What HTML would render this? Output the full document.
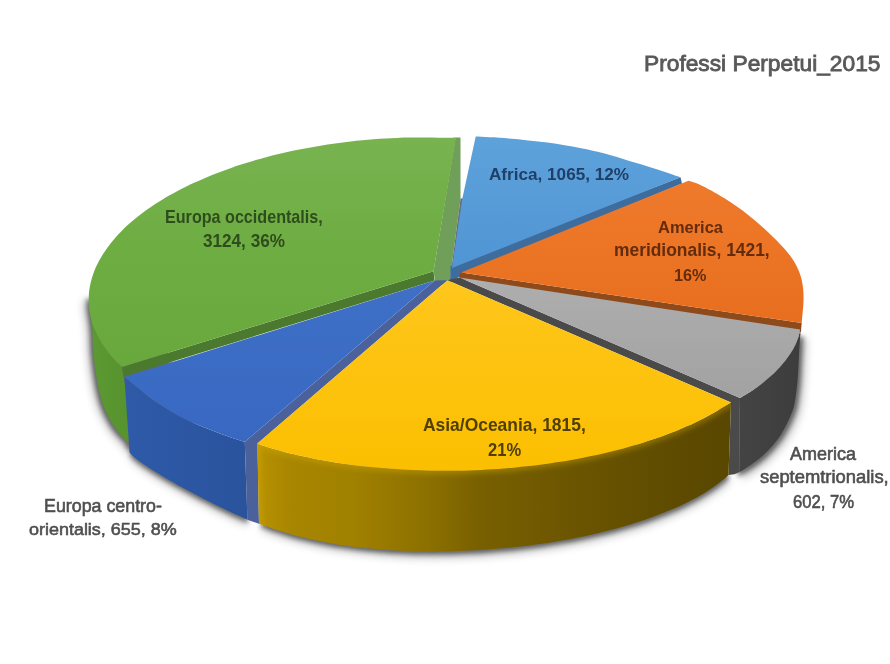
<!DOCTYPE html>
<html><head><meta charset="utf-8"><style>
html,body{margin:0;padding:0;background:#fff;}
body{width:890px;height:664px;position:relative;overflow:hidden;font-family:"Liberation Sans",sans-serif;}
svg{position:absolute;left:0;top:0;}
.t{position:absolute;white-space:nowrap;line-height:1;transform-origin:0 0;}
</style></head><body>
<svg width="890" height="664" viewBox="0 0 890 664">
<defs>
<filter id="sh" x="-20%" y="-20%" width="140%" height="140%"><feGaussianBlur stdDeviation="4"/></filter>
<filter id="bev" x="-20%" y="-20%" width="140%" height="140%"><feGaussianBlur stdDeviation="2.5"/></filter>
<filter id="sh2" x="-20%" y="-20%" width="140%" height="140%"><feGaussianBlur stdDeviation="2"/></filter>
<linearGradient id="gTop" x1="0" y1="137" x2="0" y2="367" gradientUnits="userSpaceOnUse">
 <stop offset="0" stop-color="#78b350"/><stop offset="0.5" stop-color="#6ead42"/><stop offset="1" stop-color="#69a83d"/></linearGradient>
<linearGradient id="gWall" x1="0" y1="0" x2="1" y2="0">
 <stop offset="0" stop-color="#5c9a32"/><stop offset="1" stop-color="#56912d"/></linearGradient>
<linearGradient id="aTop" x1="0" y1="136" x2="0" y2="268" gradientUnits="userSpaceOnUse">
 <stop offset="0" stop-color="#5ea2db"/><stop offset="1" stop-color="#5095d4"/></linearGradient>
<linearGradient id="oTop" x1="0" y1="180" x2="0" y2="325" gradientUnits="userSpaceOnUse">
 <stop offset="0" stop-color="#ef7a2b"/><stop offset="1" stop-color="#e86e1f"/></linearGradient>
<linearGradient id="sTop" x1="0" y1="277" x2="0" y2="397" gradientUnits="userSpaceOnUse">
 <stop offset="0" stop-color="#aeaeae"/><stop offset="1" stop-color="#a2a2a2"/></linearGradient>
<linearGradient id="sWall" x1="735" y1="0" x2="801" y2="0" gradientUnits="userSpaceOnUse">
 <stop offset="0" stop-color="#444444"/><stop offset="1" stop-color="#3d3d3d"/></linearGradient>
<linearGradient id="yTop" x1="0" y1="280" x2="0" y2="472" gradientUnits="userSpaceOnUse">
 <stop offset="0" stop-color="#ffc61c"/><stop offset="1" stop-color="#fbbf00"/></linearGradient>
<linearGradient id="yWall" x1="257" y1="0" x2="730" y2="0" gradientUnits="userSpaceOnUse">
 <stop offset="0" stop-color="#b89200"/><stop offset="0.07" stop-color="#a88600"/><stop offset="0.21" stop-color="#a08000"/><stop offset="0.36" stop-color="#8c7000"/><stop offset="0.47" stop-color="#786000"/><stop offset="0.69" stop-color="#6a5400"/><stop offset="0.89" stop-color="#5e4b00"/><stop offset="1" stop-color="#5a4700"/></linearGradient>
<linearGradient id="bTop" x1="0" y1="280" x2="0" y2="442" gradientUnits="userSpaceOnUse">
 <stop offset="0" stop-color="#3f70c6"/><stop offset="1" stop-color="#3868c2"/></linearGradient>
<linearGradient id="bWall" x1="125" y1="0" x2="247" y2="0" gradientUnits="userSpaceOnUse">
 <stop offset="0" stop-color="#2e5aa8"/><stop offset="1" stop-color="#2a539d"/></linearGradient>
</defs>
<g filter="url(#sh)" fill="#000" opacity="0.25">
<path d="M260.6,530.1 C262.0,530.6 266.1,532.0 268.7,532.9 C271.4,533.9 273.9,534.9 276.7,535.8 C279.4,536.7 282.1,537.6 285.0,538.5 C287.8,539.4 290.8,540.3 293.7,541.1 C296.7,541.9 299.7,542.7 302.8,543.5 C305.9,544.2 309.1,545.0 312.3,545.7 C315.5,546.4 318.8,547.1 322.1,547.7 C325.4,548.4 328.8,549.0 332.2,549.6 C335.6,550.2 339.1,550.8 342.6,551.3 C346.1,551.8 349.7,552.3 353.3,552.8 C356.9,553.3 360.6,553.7 364.2,554.1 C367.9,554.5 371.7,554.9 375.4,555.2 C379.2,555.6 383.0,555.9 386.8,556.1 C390.6,556.4 394.5,556.7 398.4,556.9 C402.3,557.1 406.2,557.3 410.1,557.4 C414.0,557.5 418.0,557.6 422.0,557.7 C426.0,557.8 430.0,557.8 434.0,557.9 C438.0,557.9 442.0,557.8 446.1,557.8 C450.1,557.7 454.1,557.6 458.2,557.5 C462.3,557.4 466.3,557.2 470.4,557.0 C474.5,556.9 478.5,556.6 482.6,556.4 C486.7,556.1 490.7,555.8 494.8,555.5 C498.9,555.2 502.9,554.8 507.0,554.5 C511.0,554.1 515.0,553.6 519.1,553.2 C523.1,552.7 527.1,552.3 531.1,551.8 C535.1,551.2 539.1,550.7 543.0,550.1 C547.0,549.6 550.9,548.9 554.8,548.3 C558.7,547.7 562.6,547.0 566.5,546.3 C570.3,545.6 574.1,544.9 577.9,544.1 C581.7,543.4 585.5,542.6 589.2,541.8 C592.9,541.0 596.6,540.2 600.2,539.3 C603.9,538.4 607.5,537.5 611.0,536.6 C614.6,535.7 618.1,534.8 621.5,533.8 C625.0,532.8 628.4,531.8 631.8,530.8 C635.1,529.8 638.4,528.7 641.7,527.7 C645.0,526.6 648.2,525.5 651.3,524.4 C654.4,523.3 657.5,522.2 660.5,521.0 C663.6,519.9 666.5,518.7 669.4,517.5 C672.3,516.3 675.2,515.1 677.9,513.9 C680.7,512.6 683.4,511.4 686.0,510.1 C688.6,508.8 691.2,507.5 693.7,506.2 C696.2,504.9 698.6,503.6 700.9,502.3 C703.3,501.0 705.5,499.6 707.7,498.3 C709.9,496.9 712.0,495.5 714.0,494.1 C716.1,492.8 718.0,491.4 719.9,490.0 C721.8,488.5 723.6,487.1 725.3,485.7 C727.0,484.3 729.3,482.1 730.1,481.4 L700.0,440.0 L300.0,470.0 Z"/>
<path d="M130.2,456.8 C130.2,457.0 130.1,457.5 130.2,457.9 C130.3,458.4 130.5,458.9 130.9,459.4 C131.3,460.0 131.9,460.7 132.7,461.4 C133.4,462.2 134.4,463.0 135.4,463.9 C136.5,464.8 137.8,465.8 139.2,466.9 C140.6,467.9 142.1,469.0 143.8,470.2 C145.5,471.4 147.4,472.6 149.4,473.9 C151.3,475.2 153.5,476.5 155.7,477.9 C157.9,479.3 160.3,480.7 162.7,482.2 C165.1,483.6 167.7,485.1 170.3,486.7 C172.9,488.2 175.7,489.7 178.4,491.3 C181.2,492.8 184.1,494.4 187.0,496.0 C189.8,497.5 192.8,499.1 195.8,500.7 C198.7,502.2 201.7,503.8 204.7,505.3 C207.7,506.9 210.7,508.4 213.7,509.9 C216.7,511.4 219.7,512.8 222.6,514.2 C225.6,515.7 228.5,517.1 231.4,518.4 C234.2,519.7 237.0,521.0 239.8,522.2 C242.6,523.5 246.8,525.5 248.2,526.1 L240.0,460.0 L140.0,430.0 Z"/>
<path d="M83.4,299.3 C83.5,301.3 83.6,307.4 84.0,311.4 C84.4,315.4 85.3,319.6 85.8,323.4 C86.3,327.2 86.6,329.6 86.9,334.2 C87.2,338.8 87.1,345.3 87.5,351.2 C87.9,357.1 88.5,363.3 89.3,369.3 C90.1,375.3 90.9,381.4 92.1,387.4 C93.3,393.4 94.8,400.1 96.6,405.5 C98.4,410.9 100.4,415.2 102.9,420.0 C105.5,424.8 108.7,430.2 111.9,434.4 C115.1,438.6 119.3,442.1 121.9,445.2 C124.5,448.3 126.6,451.5 127.5,452.8 L200.0,420.0 L160.0,340.0 Z"/>
<path d="M806.9,338.8 C806.7,340.7 806.3,344.2 805.9,350.4 C805.5,356.6 805.1,368.3 804.6,376.0 C804.1,383.7 803.7,389.8 802.7,396.5 C801.7,403.2 801.4,409.1 798.7,416.4 C796.0,423.7 791.4,433.3 786.6,440.5 C781.8,447.7 775.8,454.2 769.8,459.8 C763.8,465.4 755.3,471.0 750.5,474.2 C745.7,477.4 742.5,478.2 740.9,479.0 L740.0,420.0 L780.0,340.0 Z"/>
</g>
<g filter="url(#sh2)" fill="#1a1a1a" opacity="0.55">
<path d="M259.8,526.9 C261.2,527.4 265.3,528.8 267.9,529.7 C270.6,530.7 273.1,531.7 275.9,532.6 C278.6,533.5 281.3,534.4 284.2,535.3 C287.0,536.2 290.0,537.1 292.9,537.9 C295.9,538.7 298.9,539.5 302.0,540.3 C305.1,541.0 308.3,541.8 311.5,542.5 C314.7,543.2 318.0,543.9 321.3,544.5 C324.6,545.2 328.0,545.8 331.4,546.4 C334.8,547.0 338.3,547.6 341.8,548.1 C345.3,548.6 348.9,549.1 352.5,549.6 C356.1,550.1 359.8,550.5 363.4,550.9 C367.1,551.3 370.9,551.7 374.6,552.0 C378.4,552.4 382.2,552.7 386.0,552.9 C389.8,553.2 393.7,553.5 397.6,553.7 C401.5,553.9 405.4,554.1 409.3,554.2 C413.2,554.3 417.2,554.4 421.2,554.5 C425.2,554.6 429.2,554.6 433.2,554.7 C437.2,554.7 441.2,554.6 445.3,554.6 C449.3,554.5 453.3,554.4 457.4,554.3 C461.5,554.2 465.5,554.0 469.6,553.8 C473.7,553.7 477.7,553.4 481.8,553.2 C485.9,552.9 489.9,552.6 494.0,552.3 C498.1,552.0 502.1,551.6 506.2,551.3 C510.2,550.9 514.2,550.4 518.3,550.0 C522.3,549.5 526.3,549.1 530.3,548.6 C534.3,548.0 538.3,547.5 542.2,546.9 C546.2,546.4 550.1,545.7 554.0,545.1 C557.9,544.5 561.8,543.8 565.7,543.1 C569.5,542.4 573.3,541.7 577.1,540.9 C580.9,540.2 584.7,539.4 588.4,538.6 C592.1,537.8 595.8,537.0 599.4,536.1 C603.1,535.2 606.7,534.3 610.2,533.4 C613.8,532.5 617.3,531.6 620.7,530.6 C624.2,529.6 627.6,528.6 631.0,527.6 C634.3,526.6 637.6,525.5 640.9,524.5 C644.2,523.4 647.4,522.3 650.5,521.2 C653.6,520.1 656.7,519.0 659.7,517.8 C662.8,516.7 665.7,515.5 668.6,514.3 C671.5,513.1 674.4,511.9 677.1,510.7 C679.9,509.4 682.6,508.2 685.2,506.9 C687.8,505.6 690.4,504.3 692.9,503.0 C695.4,501.7 697.8,500.4 700.1,499.1 C702.5,497.8 704.7,496.4 706.9,495.1 C709.1,493.7 711.2,492.3 713.2,490.9 C715.3,489.6 717.2,488.2 719.1,486.8 C721.0,485.3 722.8,483.9 724.5,482.5 C726.2,481.1 728.5,478.9 729.3,478.2 L700.0,440.0 L300.0,470.0 Z"/>
<path d="M129.8,453.6 C129.8,453.8 129.7,454.3 129.8,454.7 C129.9,455.2 130.1,455.7 130.5,456.2 C130.9,456.8 131.5,457.5 132.3,458.2 C133.0,459.0 134.0,459.8 135.0,460.7 C136.1,461.6 137.4,462.6 138.8,463.7 C140.2,464.7 141.7,465.8 143.4,467.0 C145.1,468.2 147.0,469.4 149.0,470.7 C150.9,472.0 153.1,473.3 155.3,474.7 C157.5,476.1 159.9,477.5 162.3,479.0 C164.7,480.4 167.3,481.9 169.9,483.5 C172.5,485.0 175.3,486.5 178.0,488.1 C180.8,489.6 183.7,491.2 186.6,492.8 C189.4,494.3 192.4,495.9 195.4,497.5 C198.3,499.0 201.3,500.6 204.3,502.1 C207.3,503.7 210.3,505.2 213.3,506.7 C216.3,508.2 219.3,509.6 222.2,511.0 C225.2,512.5 228.1,513.9 231.0,515.2 C233.8,516.5 236.6,517.8 239.4,519.0 C242.2,520.3 246.4,522.3 247.8,522.9 L240.0,460.0 L140.0,430.0 Z"/>
<path d="M86.2,297.7 C86.3,299.7 86.4,305.8 86.8,309.8 C87.2,313.8 88.1,318.0 88.6,321.8 C89.1,325.6 89.4,328.0 89.7,332.6 C90.0,337.2 89.9,343.8 90.3,349.6 C90.7,355.5 91.3,361.7 92.1,367.7 C92.9,373.7 93.7,379.8 94.9,385.8 C96.1,391.8 97.6,398.5 99.4,403.9 C101.2,409.3 103.2,413.6 105.7,418.4 C108.2,423.2 111.5,428.6 114.7,432.8 C117.9,437.0 122.6,440.7 124.7,443.6 C126.8,446.5 127.0,449.3 127.5,450.4 L200.0,420.0 L160.0,340.0 Z"/>
<path d="M803.7,336.4 C803.5,338.3 803.1,341.8 802.7,348.0 C802.3,354.2 801.9,365.9 801.4,373.6 C800.9,381.3 800.5,387.4 799.5,394.1 C798.5,400.8 798.2,406.7 795.5,414.0 C792.8,421.3 788.2,430.9 783.4,438.1 C778.6,445.3 772.6,451.8 766.6,457.4 C760.6,463.0 752.1,468.6 747.3,471.8 C742.5,475.0 739.3,475.8 737.7,476.6 L740.0,420.0 L780.0,340.0 Z"/>
</g>
<path fill="url(#gWall)" d="M89.0,296.1 C89.1,298.1 89.2,304.2 89.6,308.2 C90.0,312.2 90.9,316.4 91.4,320.2 C91.9,324.0 92.2,326.4 92.5,331.0 C92.8,335.6 92.7,342.1 93.1,348.0 C93.5,353.9 94.1,360.1 94.9,366.1 C95.7,372.1 96.5,378.2 97.7,384.2 C98.9,390.2 100.4,396.9 102.2,402.3 C104.0,407.7 106.0,412.0 108.5,416.8 C111.0,421.6 114.3,427.0 117.5,431.2 C120.7,435.4 125.8,440.2 127.5,442.0 L127.5,442.0 L135.0,442.0 L122.0,367.0 L122.0,367.0 C121.1,366.2 118.2,363.8 116.5,362.1 C114.8,360.5 113.4,358.7 111.9,357.0 C110.4,355.3 109.0,353.6 107.7,351.8 C106.4,350.1 105.1,348.3 103.9,346.6 C102.7,344.8 101.5,343.0 100.5,341.2 C99.4,339.4 98.4,337.6 97.5,335.8 C96.6,334.0 95.4,331.2 95.0,330.3 Z"/>
<path fill="#6f9f58" d="M455.5,137.6 L460.5,137.6 L460.5,198.5 L449.4,284.0 L436.0,286.0 L433.5,271.2 Z"/>
<path fill="#4b7a2e" d="M122.0,367.0 L433.5,271.2 L434.6,280.5 L123.9,376.5 Z"/>
<path fill="url(#gTop)" d="M456.0,137.4 C454.0,137.5 448.0,137.7 444.1,137.7 C440.2,137.7 436.3,137.5 432.4,137.4 C428.5,137.4 424.6,137.4 420.7,137.4 C416.8,137.4 412.9,137.5 409.0,137.6 C405.1,137.6 401.2,137.8 397.2,137.9 C393.3,138.1 389.4,138.3 385.5,138.5 C381.6,138.7 377.7,139.0 373.8,139.3 C369.9,139.6 366.0,139.9 362.1,140.3 C358.3,140.7 354.4,141.1 350.5,141.5 C346.7,141.9 342.8,142.4 339.0,142.9 C335.2,143.4 331.3,144.0 327.5,144.5 C323.8,145.1 320.0,145.7 316.2,146.4 C312.5,147.0 308.7,147.7 305.0,148.4 C301.3,149.1 297.6,149.8 293.9,150.6 C290.3,151.4 286.6,152.2 283.0,153.0 C279.4,153.9 275.8,154.7 272.2,155.6 C268.7,156.5 265.2,157.5 261.7,158.4 C258.2,159.4 254.7,160.4 251.3,161.4 C247.9,162.4 244.5,163.5 241.1,164.6 C237.8,165.6 234.5,166.7 231.2,167.9 C227.9,169.0 224.7,170.2 221.5,171.4 C218.3,172.6 215.2,173.8 212.1,175.0 C209.0,176.3 205.9,177.6 202.9,178.9 C199.9,180.2 196.9,181.5 194.0,182.8 C191.1,184.2 188.2,185.6 185.4,187.0 C182.6,188.4 179.8,189.8 177.1,191.2 C174.4,192.7 171.7,194.2 169.1,195.6 C166.5,197.1 163.9,198.6 161.4,200.2 C158.9,201.7 156.5,203.3 154.1,204.8 C151.7,206.4 149.4,208.0 147.1,209.6 C144.8,211.2 142.6,212.9 140.5,214.5 C138.3,216.2 136.2,217.8 134.2,219.5 C132.2,221.2 130.2,222.9 128.3,224.6 C126.4,226.3 124.6,228.1 122.8,229.8 C121.1,231.6 119.3,233.3 117.7,235.1 C116.1,236.9 114.5,238.6 113.0,240.4 C111.5,242.2 110.0,244.0 108.7,245.9 C107.3,247.7 106.0,249.5 104.8,251.4 C103.5,253.2 102.4,255.0 101.3,256.9 C100.2,258.7 99.1,260.6 98.2,262.5 C97.2,264.3 96.4,266.2 95.5,268.1 C94.7,270.0 94.0,271.9 93.3,273.8 C92.7,275.6 92.1,277.5 91.5,279.4 C91.0,281.3 90.6,283.2 90.2,285.1 C89.8,287.0 89.5,288.9 89.2,290.8 C89.0,292.7 88.8,294.6 88.8,296.5 C88.7,298.4 88.6,300.3 88.7,302.2 C88.8,304.1 88.9,306.0 89.1,307.9 C89.3,309.8 89.6,311.7 89.9,313.6 C90.3,315.4 90.7,317.3 91.2,319.2 C91.7,321.1 92.2,322.9 92.8,324.8 C93.5,326.6 94.2,328.5 95.0,330.3 C95.7,332.1 96.6,334.0 97.5,335.8 C98.4,337.6 99.4,339.4 100.5,341.2 C101.5,343.0 102.7,344.8 103.9,346.6 C105.1,348.3 106.4,350.1 107.7,351.8 C109.0,353.6 110.4,355.3 111.9,357.0 C113.4,358.7 114.8,360.5 116.5,362.1 C118.2,363.8 121.1,366.2 122.0,367.0 L122.0,367.0 L433.5,271.2 Z"/>
<path fill="#65707e" d="M460.5,198.5 L464.5,198.3 L453.0,268.0 L452.5,281.0 L449.4,284.0 Z"/>
<path fill="#3e6c9c" d="M450.5,266.0 L680.5,177.2 L682.0,183.5 L462.0,275.0 L459.0,277.0 L452.0,281.0 L450.5,281.0 Z"/>
<path fill="url(#aTop)" d="M475.7,136.6 C481.2,136.9 496.8,137.4 508.8,138.4 C520.8,139.4 535.6,141.0 547.5,142.6 C559.4,144.2 570.5,146.2 580.0,148.0 C589.5,149.8 596.5,151.4 604.7,153.6 C612.9,155.8 621.1,158.5 629.4,161.0 C637.6,163.5 645.7,165.7 654.2,168.4 C662.7,171.1 676.1,175.7 680.5,177.2 L680.5,177.2 L452.0,268.0 L462.4,198.3 Z"/>
<path fill="#8f4a1c" d="M801.7,323.0 L800.9,332.0 L460.0,279.0 L459.0,276.0 L461.0,272.5 Z"/>
<path fill="url(#oTop)" d="M688.4,180.8 C690.3,181.5 694.0,181.9 700.0,184.8 C706.0,187.7 716.1,193.1 724.1,198.1 C732.1,203.1 741.2,209.5 748.2,214.9 C755.2,220.3 760.1,224.8 766.3,230.6 C772.5,236.4 780.8,244.6 785.5,250.0 C790.2,255.4 792.3,258.5 794.8,262.8 C797.3,267.1 799.1,271.3 800.5,275.6 C801.9,279.9 802.6,284.1 803.1,288.4 C803.6,292.7 803.6,296.9 803.5,301.2 C803.4,305.5 802.8,310.4 802.5,314.0 C802.2,317.6 801.8,321.5 801.7,323.0 L801.7,323.0 L461.0,272.5 Z"/>
<path fill="url(#sWall)" d="M800.1,329.6 C800.0,330.2 799.7,331.9 799.4,333.1 C799.1,334.3 798.9,335.5 798.5,336.7 C798.1,337.9 797.7,339.2 797.2,340.4 C796.8,341.6 796.2,342.9 795.7,344.2 C795.1,345.4 794.4,346.7 793.8,347.9 C793.1,349.2 792.3,350.5 791.5,351.8 C790.8,353.1 789.9,354.3 789.0,355.6 C788.1,356.9 787.2,358.2 786.2,359.5 C785.2,360.8 784.2,362.1 783.1,363.3 C782.1,364.6 780.9,365.9 779.8,367.2 C778.6,368.4 777.4,369.7 776.2,370.9 C774.9,372.2 773.6,373.4 772.3,374.7 C771.0,375.9 769.6,377.1 768.2,378.3 C766.8,379.5 765.4,380.7 763.9,381.9 C762.5,383.1 761.0,384.2 759.4,385.4 C757.9,386.5 756.4,387.6 754.8,388.7 C753.2,389.8 751.6,390.9 750.0,391.9 C748.4,393.0 746.7,394.0 745.0,395.0 C743.4,396.0 740.8,397.5 740.0,398.0 L740.0,398.0 L739.3,472.0 L734.5,474.2 C736.1,473.4 739.3,472.6 744.1,469.4 C748.9,466.2 757.4,460.6 763.4,455.0 C769.4,449.4 775.4,442.9 780.2,435.7 C785.0,428.5 789.6,418.9 792.3,411.6 C795.0,404.3 795.3,398.4 796.3,391.7 C797.3,385.0 797.7,378.9 798.2,371.2 C798.7,363.5 799.1,351.8 799.5,345.6 C799.9,339.4 800.3,335.9 800.5,334.0 Z"/>
<path fill="#4a4a4a" d="M740.0,398.0 L459.5,277.5 L447.4,280.2 L731.0,402.6 L728.5,475.0 L734.5,474.2 L739.3,472.0 Z"/>
<path fill="url(#sTop)" d="M800.1,329.6 C800.0,330.2 799.7,331.9 799.4,333.1 C799.1,334.3 798.9,335.5 798.5,336.7 C798.1,337.9 797.7,339.2 797.2,340.4 C796.8,341.6 796.2,342.9 795.7,344.2 C795.1,345.4 794.4,346.7 793.8,347.9 C793.1,349.2 792.3,350.5 791.5,351.8 C790.8,353.1 789.9,354.3 789.0,355.6 C788.1,356.9 787.2,358.2 786.2,359.5 C785.2,360.8 784.2,362.1 783.1,363.3 C782.1,364.6 780.9,365.9 779.8,367.2 C778.6,368.4 777.4,369.7 776.2,370.9 C774.9,372.2 773.6,373.4 772.3,374.7 C771.0,375.9 769.6,377.1 768.2,378.3 C766.8,379.5 765.4,380.7 763.9,381.9 C762.5,383.1 761.0,384.2 759.4,385.4 C757.9,386.5 756.4,387.6 754.8,388.7 C753.2,389.8 751.6,390.9 750.0,391.9 C748.4,393.0 746.7,394.0 745.0,395.0 C743.4,396.0 740.8,397.5 740.0,398.0 L740.0,398.0 L459.5,277.5 Z"/>
<path fill="url(#bWall)" d="M124.4,377.1 C126.5,378.8 131.9,383.0 137.0,387.0 C142.1,391.0 147.5,396.2 155.0,401.3 C162.5,406.4 173.0,412.9 182.0,417.5 C191.0,422.1 199.9,425.6 208.9,429.2 C217.9,432.8 229.8,437.0 235.8,439.1 C241.8,441.2 243.3,441.4 244.8,441.8 L244.8,441.8 L247.4,519.7 L247.4,519.7 C246.0,519.1 241.8,517.1 239.0,515.8 C236.2,514.6 233.4,513.3 230.6,512.0 C227.7,510.7 224.8,509.3 221.8,507.8 C218.9,506.4 215.9,505.0 212.9,503.5 C209.9,502.0 206.9,500.5 203.9,498.9 C200.9,497.4 197.9,495.8 195.0,494.3 C192.0,492.7 189.0,491.1 186.2,489.6 C183.3,488.0 180.4,486.4 177.6,484.9 C174.9,483.3 172.1,481.8 169.5,480.3 C166.9,478.7 164.3,477.2 161.9,475.8 C159.5,474.3 157.1,472.9 154.9,471.5 C152.7,470.1 150.5,468.8 148.6,467.5 C146.6,466.2 144.7,465.0 143.0,463.8 C141.3,462.6 139.8,461.5 138.4,460.5 C137.0,459.4 135.7,458.4 134.6,457.5 C133.6,456.6 132.6,455.8 131.9,455.0 C131.1,454.3 130.5,453.6 130.1,453.0 C129.7,452.5 129.5,452.0 129.4,451.5 C129.3,451.1 129.4,450.6 129.4,450.4 Z"/>
<path fill="#4a619c" d="M434.6,280.5 L447.4,280.2 L257.5,443.5 L259.0,523.7 L247.4,519.7 L244.8,441.8 Z"/>
<path fill="url(#bTop)" d="M124.4,377.1 C126.5,378.8 131.9,383.0 137.0,387.0 C142.1,391.0 147.5,396.2 155.0,401.3 C162.5,406.4 173.0,412.9 182.0,417.5 C191.0,422.1 199.9,425.6 208.9,429.2 C217.9,432.8 229.8,437.0 235.8,439.1 C241.8,441.2 243.3,441.4 244.8,441.8 L244.8,441.8 L434.6,280.5 Z"/>
<clipPath id="ycl"><path d="M257.3,443.5 C258.7,444.0 262.8,445.7 265.8,446.6 C268.7,447.6 271.9,448.5 275.0,449.3 C278.1,450.2 281.3,451.1 284.5,451.9 C287.7,452.7 290.9,453.5 294.2,454.3 C297.5,455.1 300.8,455.9 304.1,456.6 C307.5,457.3 310.8,458.0 314.3,458.7 C317.7,459.4 321.1,460.0 324.6,460.6 C328.1,461.2 331.6,461.8 335.1,462.4 C338.6,463.0 342.2,463.5 345.8,464.0 C349.3,464.5 353.0,465.0 356.6,465.4 C360.2,465.9 363.9,466.3 367.5,466.7 C371.2,467.1 374.9,467.5 378.6,467.8 C382.3,468.2 386.1,468.5 389.8,468.8 C393.6,469.0 397.3,469.3 401.1,469.5 C404.9,469.7 408.7,469.9 412.5,470.1 C416.3,470.3 420.1,470.4 423.9,470.5 C427.7,470.6 431.5,470.7 435.4,470.7 C439.2,470.8 443.1,470.8 446.9,470.8 C450.7,470.8 454.6,470.7 458.4,470.7 C462.3,470.6 466.1,470.5 470.0,470.4 C473.8,470.2 477.6,470.1 481.5,469.9 C485.3,469.7 489.1,469.5 493.0,469.3 C496.8,469.0 500.6,468.7 504.4,468.4 C508.2,468.1 512.0,467.8 515.8,467.4 C519.6,467.1 523.4,466.7 527.2,466.3 C530.9,465.9 534.7,465.4 538.4,464.9 C542.1,464.5 545.8,464.0 549.5,463.4 C553.2,462.9 556.9,462.3 560.6,461.8 C564.2,461.2 567.9,460.6 571.5,459.9 C575.1,459.3 578.7,458.6 582.2,457.9 C585.8,457.2 589.3,456.5 592.8,455.8 C596.3,455.0 599.8,454.2 603.2,453.4 C606.7,452.7 610.1,451.8 613.5,451.0 C616.8,450.1 620.2,449.3 623.5,448.4 C626.8,447.5 630.1,446.5 633.3,445.6 C636.6,444.6 639.8,443.7 642.9,442.7 C646.1,441.7 649.2,440.7 652.3,439.6 C655.4,438.6 658.4,437.5 661.4,436.5 C664.4,435.4 667.4,434.3 670.3,433.1 C673.2,432.0 676.0,430.9 678.8,429.7 C681.7,428.5 684.4,427.3 687.1,426.1 C689.9,424.9 692.5,423.7 695.1,422.4 C697.8,421.2 700.3,419.9 702.8,418.7 C705.3,417.4 707.8,416.1 710.2,414.7 C712.6,413.4 715.0,412.1 717.3,410.7 C719.6,409.4 721.7,408.0 724.0,406.6 C726.3,405.3 729.8,403.3 731.0,402.6 L731.0,402.6 L728.5,475.0 L728.5,475.0 C727.7,475.7 725.4,477.9 723.7,479.3 C722.0,480.7 720.2,482.1 718.3,483.6 C716.4,485.0 714.5,486.4 712.4,487.7 C710.4,489.1 708.3,490.5 706.1,491.9 C703.9,493.2 701.7,494.6 699.3,495.9 C697.0,497.2 694.6,498.5 692.1,499.8 C689.6,501.1 687.0,502.4 684.4,503.7 C681.8,505.0 679.1,506.2 676.3,507.5 C673.6,508.7 670.7,509.9 667.8,511.1 C664.9,512.3 662.0,513.5 658.9,514.6 C655.9,515.8 652.8,516.9 649.7,518.0 C646.6,519.1 643.4,520.2 640.1,521.3 C636.8,522.3 633.5,523.4 630.2,524.4 C626.8,525.4 623.4,526.4 619.9,527.4 C616.5,528.4 613.0,529.3 609.4,530.2 C605.9,531.1 602.3,532.0 598.6,532.9 C595.0,533.8 591.3,534.6 587.6,535.4 C583.9,536.2 580.1,537.0 576.3,537.7 C572.5,538.5 568.7,539.2 564.9,539.9 C561.0,540.6 557.1,541.3 553.2,541.9 C549.3,542.5 545.4,543.2 541.4,543.7 C537.5,544.3 533.5,544.8 529.5,545.4 C525.5,545.9 521.5,546.3 517.5,546.8 C513.4,547.2 509.4,547.7 505.4,548.1 C501.3,548.4 497.3,548.8 493.2,549.1 C489.1,549.4 485.1,549.7 481.0,550.0 C476.9,550.2 472.9,550.5 468.8,550.6 C464.7,550.8 460.7,551.0 456.6,551.1 C452.5,551.2 448.5,551.3 444.5,551.4 C440.4,551.4 436.4,551.5 432.4,551.5 C428.4,551.4 424.4,551.4 420.4,551.3 C416.4,551.2 412.4,551.1 408.5,551.0 C404.6,550.9 400.7,550.7 396.8,550.5 C392.9,550.3 389.0,550.0 385.2,549.7 C381.4,549.5 377.6,549.2 373.8,548.8 C370.1,548.5 366.3,548.1 362.6,547.7 C359.0,547.3 355.3,546.9 351.7,546.4 C348.1,545.9 344.5,545.4 341.0,544.9 C337.5,544.4 334.0,543.8 330.6,543.2 C327.2,542.6 323.8,542.0 320.5,541.3 C317.2,540.7 313.9,540.0 310.7,539.3 C307.5,538.6 304.3,537.8 301.2,537.1 C298.1,536.3 295.1,535.5 292.1,534.7 C289.2,533.9 286.2,533.0 283.4,532.1 C280.5,531.2 277.8,530.3 275.1,529.4 C272.3,528.5 269.8,527.5 267.1,526.5 C264.5,525.6 260.4,524.2 259.0,523.7 Z"/></clipPath>
<path fill="url(#yWall)" d="M257.3,443.5 C258.7,444.0 262.8,445.7 265.8,446.6 C268.7,447.6 271.9,448.5 275.0,449.3 C278.1,450.2 281.3,451.1 284.5,451.9 C287.7,452.7 290.9,453.5 294.2,454.3 C297.5,455.1 300.8,455.9 304.1,456.6 C307.5,457.3 310.8,458.0 314.3,458.7 C317.7,459.4 321.1,460.0 324.6,460.6 C328.1,461.2 331.6,461.8 335.1,462.4 C338.6,463.0 342.2,463.5 345.8,464.0 C349.3,464.5 353.0,465.0 356.6,465.4 C360.2,465.9 363.9,466.3 367.5,466.7 C371.2,467.1 374.9,467.5 378.6,467.8 C382.3,468.2 386.1,468.5 389.8,468.8 C393.6,469.0 397.3,469.3 401.1,469.5 C404.9,469.7 408.7,469.9 412.5,470.1 C416.3,470.3 420.1,470.4 423.9,470.5 C427.7,470.6 431.5,470.7 435.4,470.7 C439.2,470.8 443.1,470.8 446.9,470.8 C450.7,470.8 454.6,470.7 458.4,470.7 C462.3,470.6 466.1,470.5 470.0,470.4 C473.8,470.2 477.6,470.1 481.5,469.9 C485.3,469.7 489.1,469.5 493.0,469.3 C496.8,469.0 500.6,468.7 504.4,468.4 C508.2,468.1 512.0,467.8 515.8,467.4 C519.6,467.1 523.4,466.7 527.2,466.3 C530.9,465.9 534.7,465.4 538.4,464.9 C542.1,464.5 545.8,464.0 549.5,463.4 C553.2,462.9 556.9,462.3 560.6,461.8 C564.2,461.2 567.9,460.6 571.5,459.9 C575.1,459.3 578.7,458.6 582.2,457.9 C585.8,457.2 589.3,456.5 592.8,455.8 C596.3,455.0 599.8,454.2 603.2,453.4 C606.7,452.7 610.1,451.8 613.5,451.0 C616.8,450.1 620.2,449.3 623.5,448.4 C626.8,447.5 630.1,446.5 633.3,445.6 C636.6,444.6 639.8,443.7 642.9,442.7 C646.1,441.7 649.2,440.7 652.3,439.6 C655.4,438.6 658.4,437.5 661.4,436.5 C664.4,435.4 667.4,434.3 670.3,433.1 C673.2,432.0 676.0,430.9 678.8,429.7 C681.7,428.5 684.4,427.3 687.1,426.1 C689.9,424.9 692.5,423.7 695.1,422.4 C697.8,421.2 700.3,419.9 702.8,418.7 C705.3,417.4 707.8,416.1 710.2,414.7 C712.6,413.4 715.0,412.1 717.3,410.7 C719.6,409.4 721.7,408.0 724.0,406.6 C726.3,405.3 729.8,403.3 731.0,402.6 L731.0,402.6 L728.5,475.0 L728.5,475.0 C727.7,475.7 725.4,477.9 723.7,479.3 C722.0,480.7 720.2,482.1 718.3,483.6 C716.4,485.0 714.5,486.4 712.4,487.7 C710.4,489.1 708.3,490.5 706.1,491.9 C703.9,493.2 701.7,494.6 699.3,495.9 C697.0,497.2 694.6,498.5 692.1,499.8 C689.6,501.1 687.0,502.4 684.4,503.7 C681.8,505.0 679.1,506.2 676.3,507.5 C673.6,508.7 670.7,509.9 667.8,511.1 C664.9,512.3 662.0,513.5 658.9,514.6 C655.9,515.8 652.8,516.9 649.7,518.0 C646.6,519.1 643.4,520.2 640.1,521.3 C636.8,522.3 633.5,523.4 630.2,524.4 C626.8,525.4 623.4,526.4 619.9,527.4 C616.5,528.4 613.0,529.3 609.4,530.2 C605.9,531.1 602.3,532.0 598.6,532.9 C595.0,533.8 591.3,534.6 587.6,535.4 C583.9,536.2 580.1,537.0 576.3,537.7 C572.5,538.5 568.7,539.2 564.9,539.9 C561.0,540.6 557.1,541.3 553.2,541.9 C549.3,542.5 545.4,543.2 541.4,543.7 C537.5,544.3 533.5,544.8 529.5,545.4 C525.5,545.9 521.5,546.3 517.5,546.8 C513.4,547.2 509.4,547.7 505.4,548.1 C501.3,548.4 497.3,548.8 493.2,549.1 C489.1,549.4 485.1,549.7 481.0,550.0 C476.9,550.2 472.9,550.5 468.8,550.6 C464.7,550.8 460.7,551.0 456.6,551.1 C452.5,551.2 448.5,551.3 444.5,551.4 C440.4,551.4 436.4,551.5 432.4,551.5 C428.4,551.4 424.4,551.4 420.4,551.3 C416.4,551.2 412.4,551.1 408.5,551.0 C404.6,550.9 400.7,550.7 396.8,550.5 C392.9,550.3 389.0,550.0 385.2,549.7 C381.4,549.5 377.6,549.2 373.8,548.8 C370.1,548.5 366.3,548.1 362.6,547.7 C359.0,547.3 355.3,546.9 351.7,546.4 C348.1,545.9 344.5,545.4 341.0,544.9 C337.5,544.4 334.0,543.8 330.6,543.2 C327.2,542.6 323.8,542.0 320.5,541.3 C317.2,540.7 313.9,540.0 310.7,539.3 C307.5,538.6 304.3,537.8 301.2,537.1 C298.1,536.3 295.1,535.5 292.1,534.7 C289.2,533.9 286.2,533.0 283.4,532.1 C280.5,531.2 277.8,530.3 275.1,529.4 C272.3,528.5 269.8,527.5 267.1,526.5 C264.5,525.6 260.4,524.2 259.0,523.7 Z"/>
<g clip-path="url(#ycl)"><path filter="url(#bev)" fill="none" stroke="#d8aa00" stroke-opacity="0.38" stroke-width="7" d="M259,530 L257.3,443.5 C258.7,444.0 262.8,445.7 265.8,446.6 C268.7,447.6 271.9,448.5 275.0,449.3 C278.1,450.2 281.3,451.1 284.5,451.9 C287.7,452.7 290.9,453.5 294.2,454.3 C297.5,455.1 300.8,455.9 304.1,456.6 C307.5,457.3 310.8,458.0 314.3,458.7 C317.7,459.4 321.1,460.0 324.6,460.6 C328.1,461.2 331.6,461.8 335.1,462.4 C338.6,463.0 342.2,463.5 345.8,464.0 C349.3,464.5 353.0,465.0 356.6,465.4 C360.2,465.9 363.9,466.3 367.5,466.7 C371.2,467.1 374.9,467.5 378.6,467.8 C382.3,468.2 386.1,468.5 389.8,468.8 C393.6,469.0 397.3,469.3 401.1,469.5 C404.9,469.7 408.7,469.9 412.5,470.1 C416.3,470.3 420.1,470.4 423.9,470.5 C427.7,470.6 431.5,470.7 435.4,470.7 C439.2,470.8 443.1,470.8 446.9,470.8 C450.7,470.8 454.6,470.7 458.4,470.7 C462.3,470.6 466.1,470.5 470.0,470.4 C473.8,470.2 477.6,470.1 481.5,469.9 C485.3,469.7 489.1,469.5 493.0,469.3 C496.8,469.0 500.6,468.7 504.4,468.4 C508.2,468.1 512.0,467.8 515.8,467.4 C519.6,467.1 523.4,466.7 527.2,466.3 C530.9,465.9 534.7,465.4 538.4,464.9 C542.1,464.5 545.8,464.0 549.5,463.4 C553.2,462.9 556.9,462.3 560.6,461.8 C564.2,461.2 567.9,460.6 571.5,459.9 C575.1,459.3 578.7,458.6 582.2,457.9 C585.8,457.2 589.3,456.5 592.8,455.8 C596.3,455.0 599.8,454.2 603.2,453.4 C606.7,452.7 610.1,451.8 613.5,451.0 C616.8,450.1 620.2,449.3 623.5,448.4 C626.8,447.5 630.1,446.5 633.3,445.6 C636.6,444.6 639.8,443.7 642.9,442.7 C646.1,441.7 649.2,440.7 652.3,439.6 C655.4,438.6 658.4,437.5 661.4,436.5 C664.4,435.4 667.4,434.3 670.3,433.1 C673.2,432.0 676.0,430.9 678.8,429.7 C681.7,428.5 684.4,427.3 687.1,426.1 C689.9,424.9 692.5,423.7 695.1,422.4 C697.8,421.2 700.3,419.9 702.8,418.7 C705.3,417.4 707.8,416.1 710.2,414.7 C712.6,413.4 715.0,412.1 717.3,410.7 C719.6,409.4 721.7,408.0 724.0,406.6 C726.3,405.3 729.8,403.3 731.0,402.6"/></g>
<path fill="url(#yTop)" d="M257.3,443.5 C258.7,444.0 262.8,445.7 265.8,446.6 C268.7,447.6 271.9,448.5 275.0,449.3 C278.1,450.2 281.3,451.1 284.5,451.9 C287.7,452.7 290.9,453.5 294.2,454.3 C297.5,455.1 300.8,455.9 304.1,456.6 C307.5,457.3 310.8,458.0 314.3,458.7 C317.7,459.4 321.1,460.0 324.6,460.6 C328.1,461.2 331.6,461.8 335.1,462.4 C338.6,463.0 342.2,463.5 345.8,464.0 C349.3,464.5 353.0,465.0 356.6,465.4 C360.2,465.9 363.9,466.3 367.5,466.7 C371.2,467.1 374.9,467.5 378.6,467.8 C382.3,468.2 386.1,468.5 389.8,468.8 C393.6,469.0 397.3,469.3 401.1,469.5 C404.9,469.7 408.7,469.9 412.5,470.1 C416.3,470.3 420.1,470.4 423.9,470.5 C427.7,470.6 431.5,470.7 435.4,470.7 C439.2,470.8 443.1,470.8 446.9,470.8 C450.7,470.8 454.6,470.7 458.4,470.7 C462.3,470.6 466.1,470.5 470.0,470.4 C473.8,470.2 477.6,470.1 481.5,469.9 C485.3,469.7 489.1,469.5 493.0,469.3 C496.8,469.0 500.6,468.7 504.4,468.4 C508.2,468.1 512.0,467.8 515.8,467.4 C519.6,467.1 523.4,466.7 527.2,466.3 C530.9,465.9 534.7,465.4 538.4,464.9 C542.1,464.5 545.8,464.0 549.5,463.4 C553.2,462.9 556.9,462.3 560.6,461.8 C564.2,461.2 567.9,460.6 571.5,459.9 C575.1,459.3 578.7,458.6 582.2,457.9 C585.8,457.2 589.3,456.5 592.8,455.8 C596.3,455.0 599.8,454.2 603.2,453.4 C606.7,452.7 610.1,451.8 613.5,451.0 C616.8,450.1 620.2,449.3 623.5,448.4 C626.8,447.5 630.1,446.5 633.3,445.6 C636.6,444.6 639.8,443.7 642.9,442.7 C646.1,441.7 649.2,440.7 652.3,439.6 C655.4,438.6 658.4,437.5 661.4,436.5 C664.4,435.4 667.4,434.3 670.3,433.1 C673.2,432.0 676.0,430.9 678.8,429.7 C681.7,428.5 684.4,427.3 687.1,426.1 C689.9,424.9 692.5,423.7 695.1,422.4 C697.8,421.2 700.3,419.9 702.8,418.7 C705.3,417.4 707.8,416.1 710.2,414.7 C712.6,413.4 715.0,412.1 717.3,410.7 C719.6,409.4 721.7,408.0 724.0,406.6 C726.3,405.3 729.8,403.3 731.0,402.6 L731.0,402.6 L447.4,280.2 Z"/>
</svg>
<div class="t" style="left:644.2px;top:51.78px;font-size:22.82px;color:#595959;font-weight:400;transform:scaleX(0.9970);-webkit-text-stroke:0.85px #595959">Professi Perpetui_2015</div>
<div class="t" style="left:164.9px;top:209.01px;font-size:17.59px;color:#2e4d1c;font-weight:700;transform:scaleX(0.9175)">Europa occidentalis,</div>
<div class="t" style="left:203.2px;top:232.81px;font-size:17.59px;color:#2e4d1c;font-weight:700;transform:scaleX(0.9748)">3124, 36%</div>
<div class="t" style="left:489.0px;top:165.80px;font-size:17.01px;color:#1f3f66;font-weight:700;transform:scaleX(1.0079)">Africa, 1065, 12%</div>
<div class="t" style="left:657.5px;top:219.20px;font-size:16.42px;color:#642c0c;font-weight:700;transform:scaleX(1.0042)">America</div>
<div class="t" style="left:613.5px;top:241.66px;font-size:17.53px;color:#642c0c;font-weight:700;transform:scaleX(0.9931)">meridionalis, 1421,</div>
<div class="t" style="left:673.7px;top:267.83px;font-size:16.86px;color:#642c0c;font-weight:700;transform:scaleX(0.9618)">16%</div>
<div class="t" style="left:423.1px;top:417.41px;font-size:17.59px;color:#4f3f02;font-weight:700;transform:scaleX(0.9915)">Asia/Oceania, 1815,</div>
<div class="t" style="left:487.9px;top:440.70px;font-size:18.31px;color:#4f3f02;font-weight:700;transform:scaleX(0.9050)">21%</div>
<div class="t" style="left:43.6px;top:496.54px;font-size:18.02px;color:#4f4f4f;font-weight:400;transform:scaleX(0.9893);-webkit-text-stroke:0.60px #4f4f4f">Europa centro-</div>
<div class="t" style="left:29.3px;top:520.68px;font-size:17.39px;color:#4f4f4f;font-weight:400;transform:scaleX(1.0330);-webkit-text-stroke:0.60px #4f4f4f">orientalis, 655, 8%</div>
<div class="t" style="left:790.1px;top:446.11px;font-size:17.59px;color:#4f4f4f;font-weight:400;transform:scaleX(1.0218);-webkit-text-stroke:0.60px #4f4f4f">America</div>
<div class="t" style="left:759.8px;top:469.13px;font-size:17.80px;color:#4f4f4f;font-weight:400;transform:scaleX(1.0333);-webkit-text-stroke:0.60px #4f4f4f">septemtrionalis,</div>
<div class="t" style="left:792.8px;top:493.99px;font-size:17.73px;color:#4f4f4f;font-weight:400;transform:scaleX(0.9393);-webkit-text-stroke:0.60px #4f4f4f">602, 7%</div>
</body></html>
